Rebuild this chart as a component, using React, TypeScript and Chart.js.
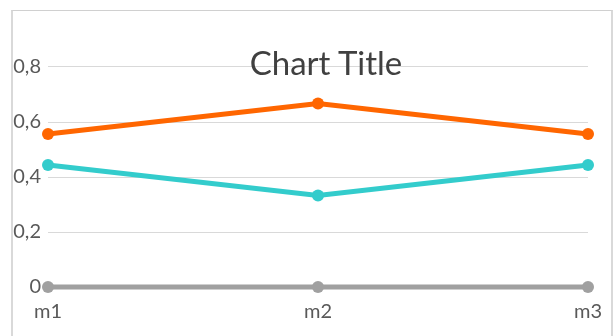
import React, { useEffect, useRef } from "react";
import { Chart, registerables } from "chart.js";

Chart.register(...registerables);

const categories = ["m1", "m2", "m3"];
const seriesOrange = [0.556, 0.667, 0.556];
const seriesTeal = [0.444, 0.333, 0.444];
const seriesGray = [0, 0, 0];
const yTicks = [0, 0.2, 0.4, 0.6, 0.8];
const titleText = "Chart Title";

export default function App() {
  const ref = useRef<HTMLCanvasElement | null>(null);

  useEffect(() => {
    if (!ref.current) return;
    const mk = (data: number[], color: string) => ({
      data,
      borderColor: color,
      backgroundColor: color,
      borderWidth: 5,
      pointRadius: 6,
      pointHoverRadius: 6,
      pointBorderWidth: 0,
      tension: 0,
      clip: false as any,
    });
    const chart = new Chart(ref.current, {
      type: "line",
      data: {
        labels: categories,
        datasets: [
          mk(seriesGray, "#a0a0a0"),
          mk(seriesTeal, "#33cccc"),
          mk(seriesOrange, "#ff6600"),
        ],
      },
      options: {
        animation: false,
        responsive: false,
        maintainAspectRatio: false,
        layout: { padding: { top: 12, right: 27, bottom: 0, left: 0 } },
        plugins: { legend: { display: false }, title: { display: false }, tooltip: { enabled: false } },
        scales: {
          x: {
            offset: false,
            grid: { display: false, drawTicks: false },
            border: { display: false },
            ticks: {
              padding: 13,
              color: "#595959",
              font: { family: "Lato", size: 20 },
              maxRotation: 0,
              autoSkip: false,
            },
            afterFit: (s: any) => {
              s.height = 49;
              s.paddingLeft = 0;
              s.paddingRight = 0;
            },
          },
          y: {
            min: 0,
            max: 1,
            afterBuildTicks: (axis: any) => {
              axis.ticks = yTicks.map((v) => ({ value: v }));
            },
            grid: { color: "#d9d9d9", lineWidth: 1, drawTicks: false },
            border: { display: false },
            ticks: {
              padding: 7,
              color: "#595959",
              font: { family: "Lato", size: 20 },
              callback: (v: any) => String(Math.round(Number(v) * 10) / 10).replace(".", ","),
            },
            afterFit: (s: any) => {
              s.width = 48;
              s.paddingTop = 0;
              s.paddingBottom = 0;
            },
          },
        },
      },
    });
    return () => chart.destroy();
  }, []);

  return (
    <div style={{ position: "fixed", left: 0, top: 0, width: 615, height: 336, overflow: "hidden", background: "#fff" }}>
      <div
        style={{
          position: "absolute",
          left: 11,
          top: 10,
          width: 598,
          height: 400,
          borderTop: "1px solid #d0d0d0",
          borderLeft: "2px solid #d9d9d9",
          borderRight: "2px solid #d9d9d9",
        }}
      />
      <canvas ref={ref} width={615} height={336} style={{ position: "absolute", left: 0, top: 0, width: 615, height: 336 }} />
      <div
        style={{
          position: "absolute",
          left: 0,
          width: 652,
          top: 42,
          textAlign: "center",
          fontFamily: "Lato",
          fontSize: 33,
          lineHeight: "40px",
          color: "#404040",
          pointerEvents: "none",
        }}
      >
        {titleText}
      </div>
    </div>
  );
}
